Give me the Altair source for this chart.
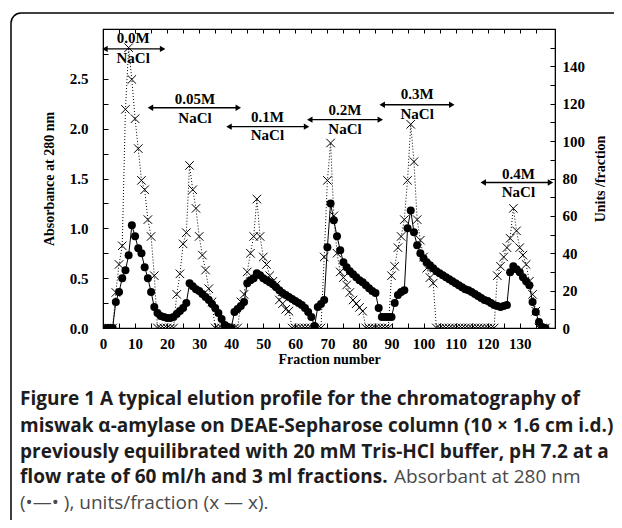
import altair as alt
import pandas as pd

fractions = list(range(1, 139))
absorbance = [
    0, 0, 0, 0.26, 0.36, 0.50, 0.58, 0.73, 1.03, 0.92,
    0.80, 0.75, 0.61, 0.50, 0.36, 0.21, 0.15, 0.12, 0.11, 0.10,
    0.10, 0.11, 0.14, 0.17, 0.20, 0.25, 0.45, 0.42, 0.39, 0.37,
    0.34, 0.31, 0.28, 0.24, 0.20, 0.15, 0.09, 0.03, 0.01, 0.00,
    0.16, 0.19, 0.22, 0.26, 0.45, 0.48, 0.50, 0.55, 0.53, 0.50,
    0.48, 0.46, 0.44, 0.41, 0.38, 0.35, 0.33, 0.31, 0.29, 0.27,
    0.25, 0.23, 0.20, 0.16, 0.11, 0.02, 0.21, 0.24, 0.28, 0.81,
    1.25, 1.08, 0.92, 0.78, 0.66, 0.61, 0.57, 0.54, 0.51, 0.48,
    0.46, 0.43, 0.40, 0.37, 0.35, 0.20, 0.11, 0.11, 0.11, 0.11,
    0.25, 0.33, 0.36, 0.38, 1.00, 1.18, 0.96, 0.83, 0.75, 0.70,
    0.66, 0.63, 0.60, 0.57, 0.55, 0.53, 0.51, 0.49, 0.47, 0.45,
    0.43, 0.41, 0.39, 0.38, 0.36, 0.34, 0.32, 0.30, 0.28, 0.27,
    0.25, 0.23, 0.22, 0.21, 0.22, 0.23, 0.56, 0.62, 0.59, 0.56,
    0.51, 0.47, 0.43, 0.26, 0.16, 0.06, 0.01, 0.00,
]
units = [
    0, 0, 0, 19, 34, 44, 117, 150, 133, 112,
    96, 79, 74, 58, 49, 28, 0, 0, 0, 0,
    0, 0, 18, 29, 45, 51, 87, 74, 64, 49,
    39, 31, 21, 14, 0, 0, 0, 0, 0, 0,
    0, 0, 14, 18, 30, 40, 49, 69, 49, 38,
    34, 28, 25, 23, 15, 13, 10, 9, 0, 0,
    0, 0, 0, 0, 0, 0, 0, 0, 38, 79,
    99, 60, 40, 30, 27, 23, 19, 15, 13, 11,
    9, 0, 0, 0, 0, 0, 0, 0, 0, 28,
    33, 43, 49, 58, 79, 109, 89, 58, 47, 38,
    32, 27, 24, 0, 0, 0, 0, 0, 0, 0,
    0, 0, 0, 0, 0, 0, 0, 0, 0, 0,
    0, 0, 28, 33, 38, 43, 48, 64, 52, 43,
    39, 34, 25, 18, 9, 0, 0, 0,
]

salt_labels = ["0.0M", "0.05M", "0.1M", "0.2M", "0.3M", "0.4M"]
salt_x = [9.4, 28.7, 51.3, 75.5, 98.0, 129.6]
salt_top_y = [2.91, 2.30, 2.12, 2.19, 2.35, 1.55]
salt_nacl_y = [2.71, 2.11, 1.94, 2.00, 2.15, 1.36]
arrow_x1 = [0.6, 14.8, 39.3, 64.5, 87.1, 118.6]
arrow_x2 = [18.6, 42.2, 63.5, 86.5, 108.8, 139.6]
arrow_y = [2.80, 2.21, 2.02, 2.09, 2.24, 1.46]

caption_bold = [
    "Figure 1 A typical elution profile for the chromatography of",
    "miswak α-amylase on DEAE-Sepharose column (10 × 1.6 cm i.d.)",
    "previously equilibrated with 20 mM Tris-HCl buffer, pH 7.2 at a",
    "flow rate of 60 ml/h and 3 ml fractions.",
]
caption_regular = ["Absorbant at 280 nm", "(•—• ), units/fraction (x — x)."]

W, H = 452, 299
SERIF = "Liberation Serif"
SANS = "Open Sans"
CAP_SIZE = 19

main = pd.DataFrame({"x": fractions, "y": absorbance})
udf = pd.DataFrame({"x": fractions, "u": units})
labels_df = pd.DataFrame({"x": salt_x, "y": salt_top_y, "t": salt_labels})
nacl_df = pd.DataFrame({"x": salt_x, "y": salt_nacl_y, "t": ["NaCl"] * 6})
arrows_df = pd.DataFrame({"x": arrow_x1, "x2": arrow_x2, "y": arrow_y})

xscale = alt.Scale(domain=[0, 141], nice=False)
yscale = alt.Scale(domain=[0, 3.0], nice=False)
uscale = alt.Scale(domain=[0, 160], nice=False)

xaxis = alt.Axis(
    title="Fraction number", values=list(range(0, 140, 5)),
    labelExpr="datum.value % 10 === 0 ? datum.label : ''",
    labelFont=SERIF, labelFontWeight="bold", labelFontSize=15, labelColor="black",
    titleFont=SERIF, titleFontWeight="bold", titleFontSize=14, titleColor="black",
    tickSize=alt.ExprRef(expr="-5"), tickColor="black", domainColor="black",
    labelPadding=13, titlePadding=1, grid=False, labelFlush=False,
)
xaxis_top = alt.Axis(
    orient="top", title=None, labels=False, values=list(range(0, 140, 5)),
    tickSize=alt.ExprRef(expr="-4"), tickColor="black", domainColor="black", grid=False,
)
yaxis = alt.Axis(
    title="Absorbance at 280 nm", values=[i * 0.25 for i in range(12)],
    labelExpr="(round(datum.value*100) % 50 === 0) ? format(datum.value, '.1f') : ''",
    labelFont=SERIF, labelFontWeight="bold", labelFontSize=15, labelColor="black",
    titleFont=SERIF, titleFontWeight="bold", titleFontSize=14, titleColor="black",
    tickSize=alt.ExprRef(expr="-5"), tickColor="black", domainColor="black",
    labelPadding=20, titlePadding=13, grid=False,
)
uaxis = alt.Axis(
    orient="right", title="Units /fraction", values=list(range(0, 160, 10)),
    labelExpr="datum.value % 20 === 0 ? datum.label : ''",
    labelFont=SERIF, labelFontWeight="bold", labelFontSize=15, labelColor="black",
    titleFont=SERIF, titleFontWeight="bold", titleFontSize=14, titleColor="black",
    titleAngle=270,
    tickSize=alt.ExprRef(expr="-5"), tickColor="black", domainColor="black",
    labelPadding=12, titlePadding=23, grid=False,
)

X = alt.X("x:Q", scale=xscale, axis=xaxis)
Y = alt.Y("y:Q", scale=yscale, axis=yaxis)

abs_line = alt.Chart(main).mark_line(color="black", strokeWidth=1).encode(x=X, y=Y)
abs_pts = alt.Chart(main).mark_circle(color="black", size=64, opacity=1, clip=True).encode(x=X, y=Y)
arrow_rule = alt.Chart(arrows_df).mark_rule(color="black", strokeWidth=1.3).encode(
    x=X, x2="x2:Q", y=Y)
head_l = alt.Chart(arrows_df).mark_point(shape="triangle-left", filled=True, color="black",
                                         size=40, opacity=1).encode(x=X, y=Y)
head_r = alt.Chart(arrows_df).mark_point(shape="triangle-right", filled=True, color="black",
                                         size=40, opacity=1).encode(
    x=alt.X("x2:Q", scale=xscale, axis=xaxis), y=Y)
lab_top = alt.Chart(labels_df).mark_text(font=SERIF, fontWeight="bold", fontSize=15,
                                         color="black", baseline="middle").encode(x=X, y=Y, text="t:N")
lab_nacl = alt.Chart(nacl_df).mark_text(font=SERIF, fontWeight="bold", fontSize=15,
                                        color="black", baseline="middle").encode(x=X, y=Y, text="t:N")

cap_y = [370, 397, 423, 448]
caption_layers = []
for i, line in enumerate(caption_bold):
    caption_layers.append(
        alt.Chart(pd.DataFrame({"t": [line]})).mark_text(
            font=SANS, fontWeight="bold", fontSize=CAP_SIZE, color="#1e1c1d",
            align="left", baseline="middle").encode(
            x=alt.value(-83), y=alt.value(cap_y[i]), text="t:N"))
caption_layers.append(
    alt.Chart(pd.DataFrame({"t": [caption_regular[0]]})).mark_text(
        font=SANS, fontSize=CAP_SIZE, color="#4a4a4a", align="left", baseline="middle").encode(
        x=alt.value(291), y=alt.value(448), text="t:N"))
caption_layers.append(
    alt.Chart(pd.DataFrame({"t": [caption_regular[1]]})).mark_text(
        font=SANS, fontSize=CAP_SIZE, color="#4a4a4a", align="left", baseline="middle").encode(
        x=alt.value(-83), y=alt.value(474), text="t:N"))

# open figure frame: top and left edges joined by a rounded corner
one = pd.DataFrame({"k": [0]})
frame_top = alt.Chart(one).mark_rule(color="black", strokeWidth=1.5).encode(
    x=alt.value(-82), x2=alt.value(511), y=alt.value(-16))
frame_left = alt.Chart(one).mark_rule(color="black", strokeWidth=1.5).encode(
    x=alt.value(-92), y=alt.value(-6), y2=alt.value(491))
frame_corner = alt.Chart(one).mark_arc(color="black", innerRadius=9.25, outerRadius=10.75).encode(
    x=alt.value(-82), y=alt.value(-6), theta=alt.value(4.7124), theta2=alt.value(6.2832))

left = alt.layer(abs_line, abs_pts, arrow_rule, head_l, head_r, lab_top, lab_nacl,
                 frame_top, frame_left, frame_corner, *caption_layers)

XU = alt.X("x:Q", scale=xscale, axis=xaxis_top)
U = alt.Y("u:Q", scale=uscale, axis=uaxis)
u_line = alt.Chart(udf).mark_line(color="black", strokeWidth=1, strokeDash=[1, 2]).encode(x=XU, y=U)
u_pts = alt.Chart(udf).mark_point(shape="M-1,-1L1,1M-1,1L1,-1", filled=False, color="black",
                                  strokeWidth=1, size=72, opacity=1, clip=True).encode(x=XU, y=U)
right = alt.layer(u_line, u_pts)

chart = alt.layer(left, right).resolve_scale(y="independent", x="independent").properties(
    width=W, height=H, autosize=alt.AutoSizeParams(type="none"),
    padding={"left": 95, "top": 21, "right": 59, "bottom": 192},
    background="white",
).configure_view(stroke="black", strokeWidth=1.2)

chart.save("out.html", embed_options={"renderer": "svg", "actions": False})
